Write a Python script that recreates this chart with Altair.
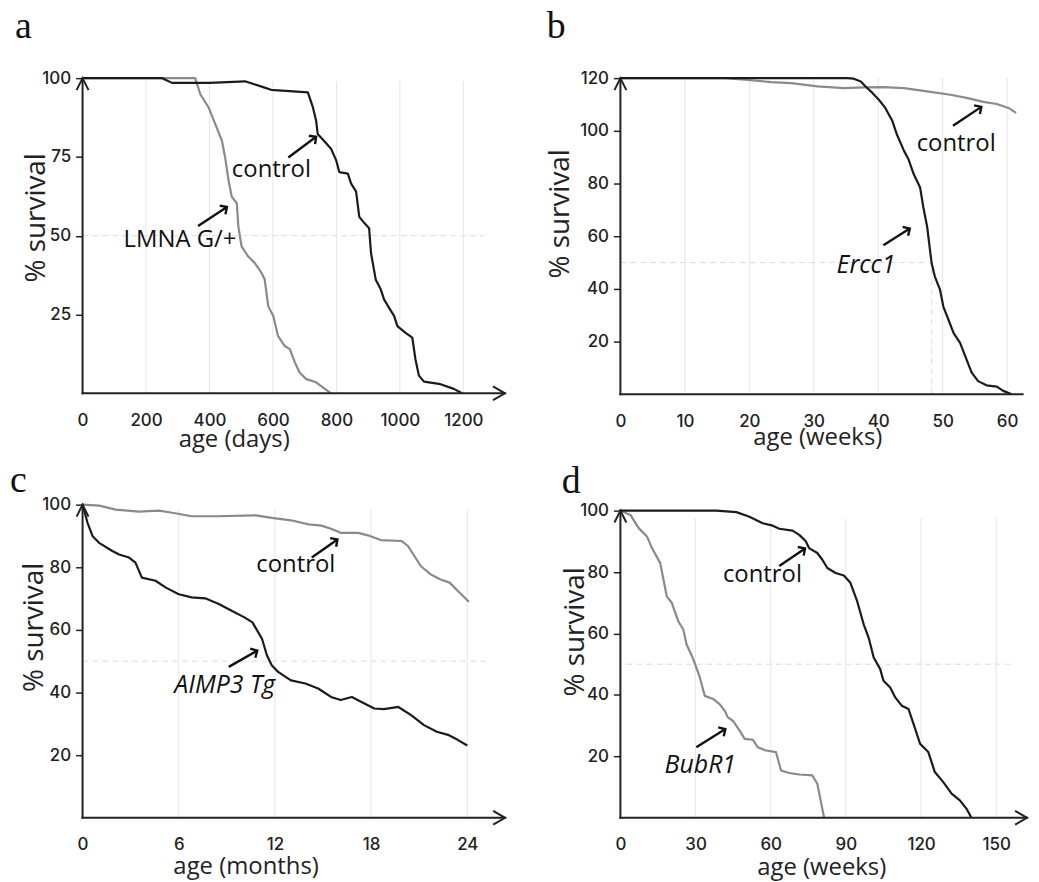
import math
import altair as alt
import pandas as pd

# ---------------- data ----------------
# panel a : LMNA G/+ progeria mice, age in days
A_CTRL_X = [0, 251, 282, 400, 512, 574, 594, 710, 726, 736, 741, 762, 783, 799, 809, 836, 846, 862,
            872, 888, 903, 909, 924, 940, 950, 966, 982, 992, 1018, 1039, 1049, 1060, 1076, 1128, 1170, 1196]
A_CTRL_Y = [100, 100, 98.5, 98.5, 99, 97, 96.3, 95.5, 90.7, 86.5, 82.3, 80, 77.6, 74, 70.2, 69.7, 66.6, 64,
            56, 54, 52.4, 44.5, 36, 32.9, 29.8, 27.1, 24.5, 21.3, 19.2, 17.7, 10.8, 5.6, 3.7, 2.9, 1.4, 0]
A_MUT_X = [0, 355, 371, 397, 418, 439, 449, 460, 470, 486, 491, 501, 522, 543, 564, 574, 585, 601, 616,
           637, 653, 669, 684, 705, 736, 757, 783]
A_MUT_Y = [100, 100, 94.9, 90.7, 85.5, 80.2, 75, 67.6, 62.4, 60.3, 52.9, 46.6, 43.4, 41.3, 38.2, 36.1,
           27.7, 24.5, 18.2, 15, 14, 9.8, 6.6, 4.5, 3.5, 1.9, 0]

# panel b : Ercc1 mice, age in weeks
B_MUT_X = [0, 35.2, 36.2, 37.3, 38, 39.1, 40.1, 41.1, 42.2, 42.9, 44, 44.7, 45.5, 46.5, 47, 47.6, 48.1,
           48.3, 48.8, 49.6, 50.1, 50.9, 51.7, 52.7, 53.5, 54.5, 55.5, 56.8, 58.4, 59.4, 60.7]
B_MUT_Y = [120, 120, 119.8, 118.7, 116.9, 114.4, 111.8, 108.7, 103.7, 98.6, 92.4, 89.2, 83.6, 78.5, 71,
           63.5, 53.4, 49.6, 44.6, 39.6, 33.3, 28.3, 23.2, 19.5, 14.5, 8.2, 5, 3.4, 2.9, 1.3, 0]
B_CTRL_X = [0, 16.2, 19.3, 23.4, 26.5, 30.6, 34.7, 37.8, 40.9, 44, 47.6, 51.2, 53.7, 56.3, 58.4, 60.2, 61.4]
B_CTRL_Y = [120, 120, 119.4, 118.5, 118.1, 116.9, 116.2, 116.5, 116.6, 116.2, 115, 113.7, 112.5, 111,
            110.2, 108.7, 106.8]

# panel c : AIMP3 Tg mice, age in months
C_CTRL_X = [0, 1.03, 2.07, 3.5, 4.76, 5.6, 6.8, 8.3, 10.8, 11.8, 13.0, 14.1, 14.9, 15.5, 16.1, 17.2, 17.8,
            18.6, 19.9, 20.3, 20.7, 21.1, 21.7, 22.3, 22.9, 23.4, 24.1]
C_CTRL_Y = [100, 99.7, 98.4, 97.8, 98.1, 97.4, 96.3, 96.3, 96.6, 95.8, 95, 93.7, 93.3, 92.3, 91, 91, 90.2,
            88.7, 88.4, 86.8, 83.6, 80.4, 77.8, 76.2, 75.1, 72.5, 69]
C_MUT_X = [0, 0.31, 0.62, 1.03, 1.86, 2.28, 2.9, 3.3, 3.7, 4.55, 5.2, 6.0, 6.8, 7.65, 8.5, 9.3, 10.1, 10.6,
           11.2, 11.5, 11.8, 12.2, 13.0, 13.9, 14.7, 15.5, 16.1, 16.8, 17.4, 18.2, 18.8, 19.7, 20.5, 21.3,
           22.1, 22.8, 23.4, 24.0]
C_MUT_Y = [100, 94.2, 90, 87.8, 85.2, 84.1, 83.1, 81.5, 76.7, 75.7, 73.5, 71.4, 70.4, 70.1, 68.3, 66.1, 64,
           62.4, 57.1, 51.9, 48.7, 46.6, 43.9, 42.9, 41.3, 38.6, 37.6, 38.6, 37, 34.9, 34.7, 35.4, 32.8,
           29.6, 27.5, 26.5, 24.9, 23.1]

# panel d : BubR1 mice, age in weeks
D_CTRL_X = [0, 38.3, 46.3, 51.5, 56.8, 60.8, 63.4, 68.7, 71.4, 74, 75.3, 78.6, 80.6, 82.6, 85.9, 89.2,
            91.8, 94.5, 97.1, 99.1, 101.1, 103.7, 105, 107.7, 109.7, 112.3, 115, 117, 119.6, 122.9, 125.5,
            128.8, 132.2, 135.5, 138.1, 140.1]
D_CTRL_Y = [100, 100, 99.5, 98, 95.9, 95.1, 94.1, 93.5, 92.1, 90, 87.8, 86.2, 84, 81.3, 79.7, 78.9, 76.5,
            70.5, 63, 58.6, 52.2, 48.4, 44.6, 42.4, 39.2, 36.5, 35.4, 30.6, 24.1, 21.4, 14.9, 11.7, 7.9,
            5.7, 3, 0]
D_MUT_X = [0, 4, 7.3, 10.6, 12.6, 15.9, 18.5, 20.5, 23.1, 25.1, 26.4, 29.1, 31.7, 33.7, 37, 39.6, 41.6,
           42.9, 44.9, 47.6, 49.6, 52.9, 54.8, 58.1, 62.1, 64.1, 67.4, 71.4, 76.6, 78.6, 81.3]
D_MUT_Y = [100, 98.6, 94.3, 91.6, 87.8, 82.9, 72.1, 70, 64, 61.3, 56.5, 51.6, 45.7, 39.7, 38.7, 37, 34.9,
           32.7, 31.6, 28.4, 25.7, 25.4, 23, 21.9, 21.4, 15.4, 14.6, 14.1, 13.8, 11.1, 0]

# tick values / titles
A_XTICKS = [0, 200, 400, 600, 800, 1000, 1200]
A_YTICKS = [25, 50, 75, 100]
B_XTICKS = [0, 10, 20, 30, 40, 50, 60]
B_YTICKS = [20, 40, 60, 80, 100, 120]
C_XTICKS = [0, 6, 12, 18, 24]
C_YTICKS = [20, 40, 60, 80, 100]
D_XTICKS = [0, 30, 60, 90, 120, 150]
D_YTICKS = [20, 40, 60, 80, 100]

# annotations: (text, x, y, italic)
A_LABELS = [("control", 595, 70.7, False), ("LMNA G/+", 307, 48.6, False)]
B_LABELS = [("control", 52.1, 95.1, False), ("Ercc1", 38.1, 49, True)]
C_LABELS = [("control", 13.3, 80.6, False), ("AIMP3 Tg", 8.87, 42.5, True)]
D_LABELS = [("control", 56.7, 79, False), ("BubR1", 31.9, 17.3, True)]
# annotation arrows: (tail x, tail y, head x, head y)
A_ARROWS = [(648.5, 74.8, 736, 81.4), (364, 53.1, 455, 59.1)]
B_ARROWS = [(51.6, 101.9, 56.0, 109.1), (40.8, 56.6, 44.9, 62.9)]
C_ARROWS = [(14.3, 83.1, 15.9, 88.9), (9.12, 48.2, 10.9, 53.4)]
D_ARROWS = [(63.4, 82, 73.7, 87.7), (30.3, 23, 41.9, 28.9)]

BLACK = "#1b1b1b"
GRAY = "#8a8a8a"
AXC = "#222222"
UP = "M-0.5,1L0,0L0.5,1"
RIGHT = "M-1,-0.58L0,0L-1,0.58"
HEAD = "M-1,1L0,0L1,1"


def panel(p):
    W, H = p["W"], p["H"]
    xs = alt.Scale(domain=p["xdom"], nice=False, zero=False)
    ys = alt.Scale(domain=p["ydom"], nice=False, zero=False)
    kx = W / (p["xdom"][1] - p["xdom"][0])
    ky = H / (p["ydom"][1] - p["ydom"][0])

    ax = alt.Axis(values=p["xticks"], format="d", title=p["xtitle"], grid=False, domain=False,
                  ticks=False, tickSize=0, labelPadding=19, labelFlush=False, labelOverlap=False,
                  labelFont="Inter", labelFontSize=17, labelColor=AXC, labelFontWeight=500,
                  titleFont="Open Sans", titleFontSize=24, titleFontWeight="normal", titleColor=AXC,
                  titleX=p["xtx"], titleY=p["xty"], titleAlign="center", titleBaseline="alphabetic")
    ay = alt.Axis(values=p["yticks"], format="d", title="% survival", grid=False, domain=False,
                  ticks=True, tickSize=7, tickWidth=1.5, tickColor=AXC, labelPadding=5,
                  labelFlush=False, labelOverlap=False, labelFont="Inter", labelFontSize=17,
                  labelColor=AXC, labelFontWeight=500, titleFont="Open Sans", titleFontSize=28,
                  titleFontWeight="normal", titleColor=AXC, titleX=p["ytx"], titleY=p["yty"],
                  titleAngle=270, titleAlign="center", titleBaseline="alphabetic")

    def X(f):
        return alt.X(f, type="quantitative", scale=xs, axis=ax)

    def Y(f):
        return alt.Y(f, type="quantitative", scale=ys, axis=ay)

    layers = []
    # vertical grid lines
    gdf = pd.DataFrame({"x": [v for v in p["xticks"] if v > 0], "y": 0.0, "y2": p["gtop"]})
    layers.append(alt.Chart(gdf).mark_rule(color="#e6e6e6", strokeWidth=1).encode(
        x=X("x"), y=Y("y"), y2="y2:Q"))

    # dashed 50 % guides
    ddf = pd.DataFrame(p["dash"], columns=["x", "x2", "y", "y2"])
    layers.append(alt.Chart(ddf).mark_rule(color="#dcdcdc", strokeWidth=1, strokeDash=[6, 4]).encode(
        x=X("x"), x2="x2:Q", y=Y("y"), y2="y2:Q"))

    # survival curves (gray first, black on top)
    for xv, yv, col in p["curves"]:
        cdf = pd.DataFrame({"x": xv, "y": yv})
        layers.append(alt.Chart(cdf).mark_line(color=col, strokeWidth=2.2, strokeJoin="round").encode(
            x=X("x"), y=Y("y")))

    # axis lines
    adf = pd.DataFrame({"x": [0, 0], "x2": [p["xend"], 0], "y": [0, 0], "y2": [0, p["yend"]]})
    layers.append(alt.Chart(adf).mark_rule(color=AXC, strokeWidth=2, strokeCap="square").encode(
        x=X("x"), x2="x2:Q", y=Y("y"), y2="y2:Q"))
    # axis arrow heads
    heads = [(0, p["yend"], UP)]
    if p["xhead"]:
        heads.append((p["xend"], 0, RIGHT))
    for hx, hy, shp in heads:
        hdf = pd.DataFrame({"x": [hx], "y": [hy]})
        layers.append(alt.Chart(hdf).mark_point(shape=shp, filled=False, size=576, stroke=AXC,
                                                strokeWidth=2, opacity=1).encode(x=X("x"), y=Y("y")))

    # annotation arrows
    rows = []
    for tx, ty, hx, hy in p["arrows"]:
        th = math.degrees(math.atan2((hy - ty) * ky, (hx - tx) * kx))
        rows.append({"x": tx, "y": ty, "x2": hx, "y2": hy, "ang": (90 - th) % 360})
    rdf = pd.DataFrame(rows)
    layers.append(alt.Chart(rdf).mark_rule(color="#111", strokeWidth=2.4).encode(
        x=X("x"), y=Y("y"), x2="x2:Q", y2="y2:Q"))
    layers.append(alt.Chart(rdf).mark_point(shape=HEAD, filled=False, size=110, stroke="#111",
                                            strokeWidth=2.4, opacity=1).encode(
        x=X("x2"), y=Y("y2"), angle=alt.Angle("ang:Q", scale=None)))

    # annotation texts
    for italic in (False, True):
        tl = [(t, x, y) for t, x, y, it in p["labels"] if it == italic]
        if not tl:
            continue
        tdf = pd.DataFrame(tl, columns=["t", "x", "y"])
        layers.append(alt.Chart(tdf).mark_text(font="Open Sans", fontSize=25 if italic else 24,
                                               fontStyle="italic" if italic else "normal",
                                               color="#111", align="center", baseline="middle").encode(
            x=X("x"), y=Y("y"), text="t:N"))

    title = alt.TitleParams(p["letter"], anchor="start", frame="group", font="Liberation Serif",
                            fontSize=38, fontWeight="normal", color="#111", baseline="alphabetic",
                            dx=p["ldx"], dy=p["ldy"], offset=p["loff"])
    return alt.layer(*layers).properties(width=W, height=H, title=title)


PA = dict(W=425, H=317, xdom=[0, 1331.5], ydom=[0, 100], xticks=A_XTICKS, yticks=A_YTICKS,
          xtitle="age (days)", xtx=152, xty=54, ytx=-38, yty=140, gtop=99,
          dash=[(0, 1265, 50, 50)], curves=[(A_MUT_X, A_MUT_Y, GRAY), (A_CTRL_X, A_CTRL_Y, BLACK)],
          xend=1331, yend=100, xhead=True, arrows=A_ARROWS, labels=A_LABELS,
          letter="a", ldx=-68, ldy=37, loff=30)
PB = dict(W=405, H=318, xdom=[0, 62.47], ydom=[0, 120], xticks=B_XTICKS, yticks=B_YTICKS,
          xtitle="age (weeks)", xtx=198, xty=50, ytx=-52, yty=136, gtop=120,
          dash=[(0, 48.3, 50, 50), (48.3, 48.3, 0, 50)],
          curves=[(B_CTRL_X, B_CTRL_Y, GRAY), (B_MUT_X, B_MUT_Y, BLACK)],
          xend=62.4, yend=120, xhead=False, arrows=B_ARROWS, labels=B_LABELS,
          letter="b", ldx=-74, ldy=37, loff=30)
PC = dict(W=420, H=315, xdom=[0, 26.05], ydom=[0, 100], xticks=C_XTICKS, yticks=C_YTICKS,
          xtitle="age (months)", xtx=164, xty=56, ytx=-40, yty=123, gtop=98.4,
          dash=[(0, 25.4, 50, 50)], curves=[(C_CTRL_X, C_CTRL_Y, GRAY), (C_MUT_X, C_MUT_Y, BLACK)],
          xend=26.36, yend=100, xhead=True, arrows=C_ARROWS, labels=C_LABELS,
          letter="c", ldx=-73, ldy=38, loff=4)
PD = dict(W=400, H=315, xdom=[0, 158.73], ydom=[0, 101.94], xticks=D_XTICKS, yticks=D_YTICKS,
          xtitle="age (weeks)", xtx=202, xty=57, ytx=-37, yty=127.5, gtop=97.4,
          dash=[(2.5, 157, 50, 50)], curves=[(D_MUT_X, D_MUT_Y, GRAY), (D_CTRL_X, D_CTRL_Y, BLACK)],
          xend=162.3, yend=100, xhead=True, arrows=D_ARROWS, labels=D_LABELS,
          letter="d", ldx=-59, ldy=39, loff=10)

chart = alt.concat(panel(PA), panel(PB), panel(PC), panel(PD), columns=2,
                   spacing={"row": 111, "column": 116}, bounds="flush", align="none").properties(
    padding={"left": 2, "top": -2, "right": 0, "bottom": 0}, background="white"
).configure_view(stroke=None)

chart.save("out.html", embed_options={"renderer": "svg", "actions": False})
